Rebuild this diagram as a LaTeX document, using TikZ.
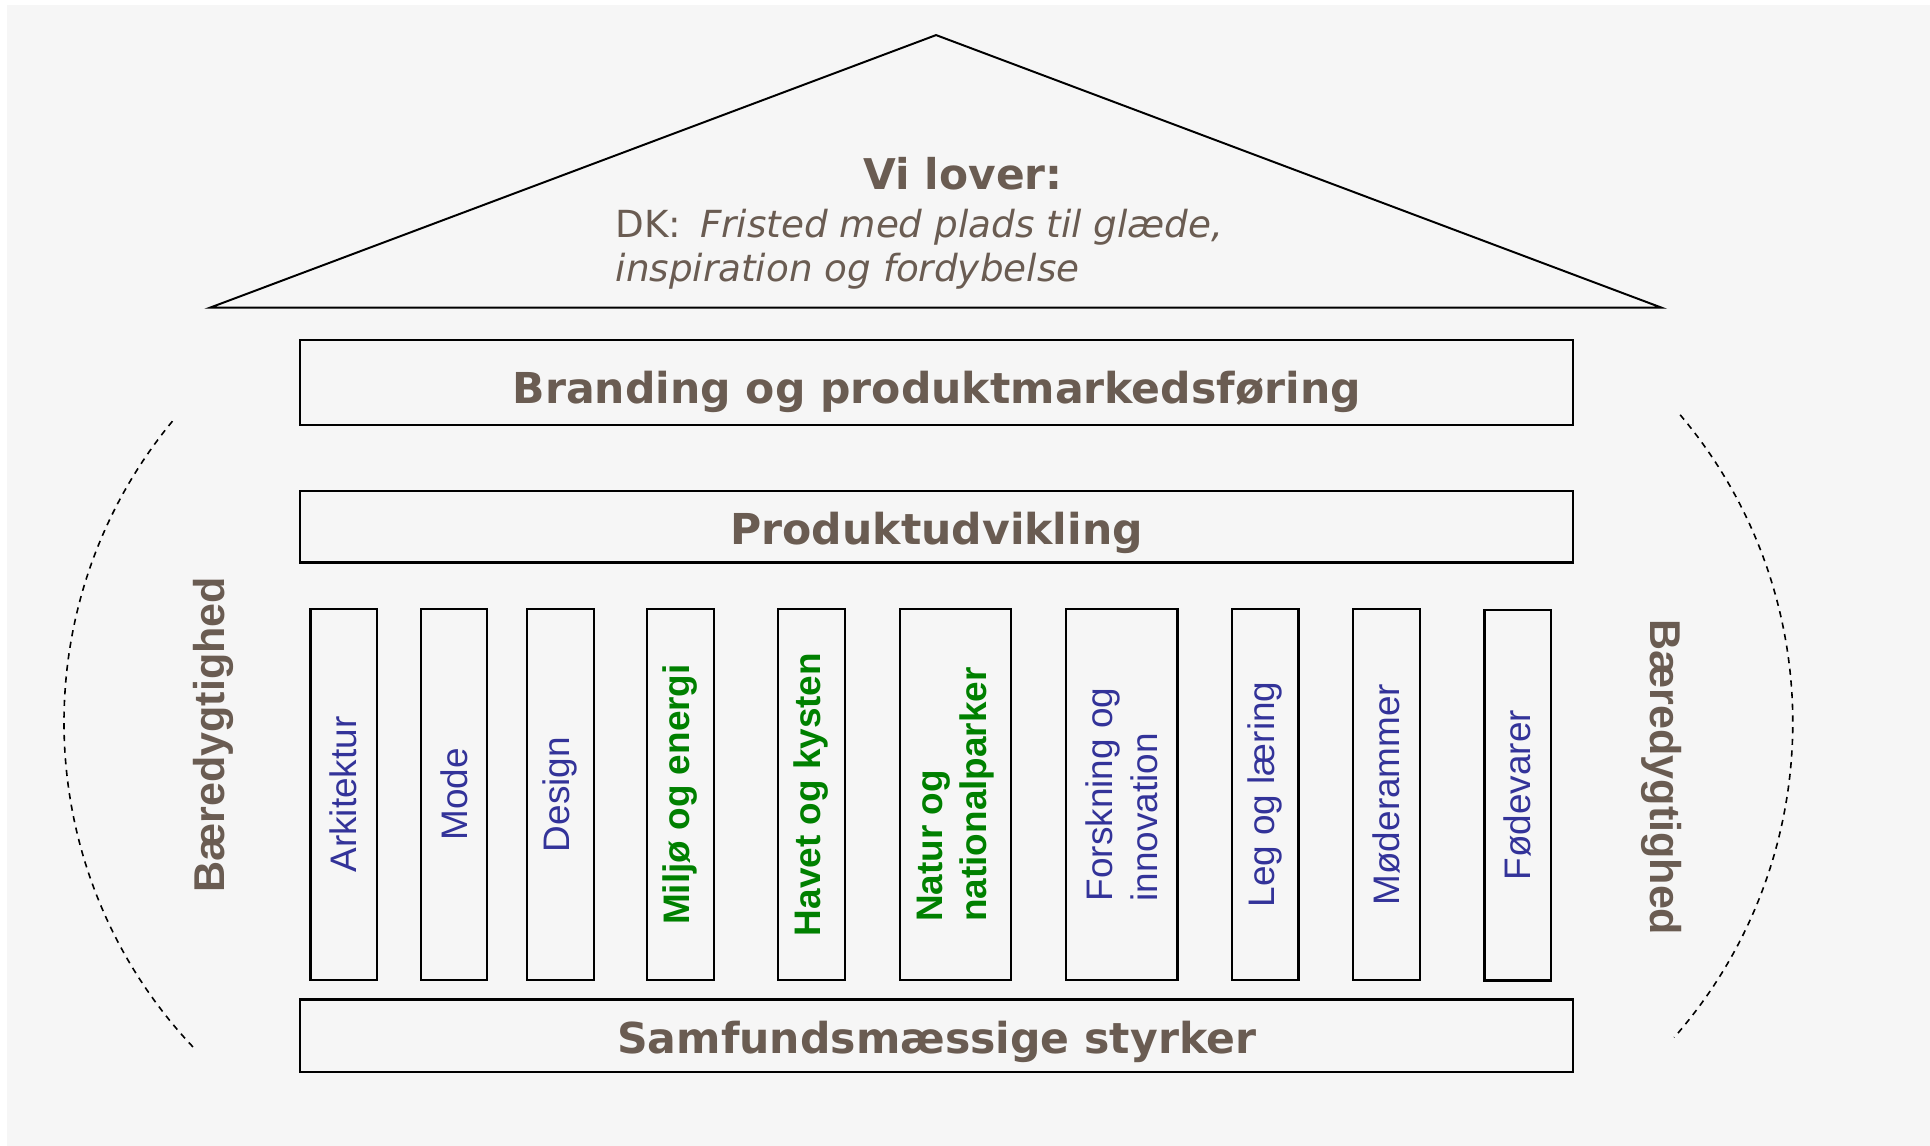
\documentclass[tikz,border=0pt]{standalone}
\usepackage{fontspec}
\newfontfamily\vfont{DejaVu Sans}
\newfontfamily\afont{Liberation Sans}
\definecolor{bgc}{RGB}{246,246,246}
\definecolor{brn}{RGB}{106,92,82}
\definecolor{pblue}{RGB}{51,51,153}
\definecolor{pgreen}{RGB}{0,128,0}
\begin{document}
\begin{tikzpicture}[x=1pt,y=-1pt,
  box/.style={draw=black,line width=1.8pt,minimum width=1034pt,inner sep=0pt},
  pillar/.style={draw=black,line width=1.8pt,minimum height=301pt,inner sep=0pt},
  btitle/.style={font=\vfont\bfseries\fontsize{34.6}{40}\selectfont,text=brn,anchor=base,inner sep=0pt},
  ptext/.style={rotate=90,font=\afont\fontsize{30}{36}\selectfont,text=pblue,align=left,inner sep=0pt},
  gtext/.style={rotate=90,font=\afont\bfseries\fontsize{30}{36}\selectfont,text=pgreen,align=left,inner sep=0pt},
  side/.style={font=\afont\bfseries\fontsize{35}{42}\selectfont,text=brn,inner sep=0pt},
  arcline/.style={line width=1.3pt,dash pattern=on 5pt off 4.5pt},
  roofline/.style={line width=1.6pt,line join=miter}
]
\useasboundingbox (0,0) rectangle (1568,931.05);
\fill[bgc] (5.5,4) rectangle (1568,931.05);

% roof
\coordinate (rl) at (170.5,250);
\coordinate (ra) at (760.5,28.5);
\coordinate (rr) at (1350,250);
\draw[roofline] (rl) -- (ra) -- (rr) -- cycle;

\node[font=\vfont\bfseries\fontsize{34.4}{40}\selectfont,text=brn,anchor=base,inner sep=0pt] (vi) at (782.5,154) {Vi lover:};
\node[font=\vfont\fontsize{30.3}{36}\selectfont,text=brn,anchor=base west,inner sep=0pt] (dk1) at (500,193) {DK:\hspace{0.5em}\textit{Fristed med plads til glæde,}};
\node[font=\vfont\fontsize{30.3}{36}\selectfont,text=brn,anchor=base west,inner sep=0pt] (dk2) at (500,229) {\textit{inspiration og fordybelse}};

% horizontal boxes
\node[box,minimum height=69pt] (b1) at (761,310.5) {};
\node[btitle] (b1t) at (761,328) {Branding og produktmarkedsføring};
\node[box,minimum height=58pt] (b2) at (761,428) {};
\node[btitle] (b2t) at (761,442) {Produktudvikling};
\node[box,minimum height=59pt] (b3) at (761,841.5) {};
\node[btitle] (b3t) at (761,856) {Samfundsmæssige styrker};

% pillars
\node[pillar,minimum width=54pt] (p1) at (279.3,645.5) {};
\node[ptext] (t1) at (p1.center) {Arkitektur};
\node[pillar,minimum width=54pt] (p2) at (368.8,645.5) {};
\node[ptext] (t2) at (p2.center) {Mode};
\node[pillar,minimum width=54pt] (p3) at (455.3,645.5) {};
\node[ptext] (t3) at (p3.center) {Design};
\node[pillar,minimum width=54pt] (p4) at (552.8,645.5) {};
\node[gtext] (t4) at (p4.center) {Miljø og energi};
\node[pillar,minimum width=54pt] (p5) at (659.2,645.5) {};
\node[gtext] (t5) at (p5.center) {Havet og kysten};
\node[pillar,minimum width=90.5pt] (p6) at (776.3,645.5) {};
\node[gtext] (t6) at (p6.center) {Natur og\\nationalparker};
\node[pillar,minimum width=90.5pt] (p7) at (911.3,645.5) {};
\node[ptext] (t7) at (p7.center) {Forskning og\\innovation};
\node[pillar,minimum width=54pt] (p8) at (1028,645.5) {};
\node[ptext] (t8) at (p8.center) {Leg og læring};
\node[pillar,minimum width=54pt] (p9) at (1126.5,645.5) {};
\node[ptext] (t9) at (p9.center) {Møderammer};
\node[pillar,minimum width=54pt] (p10) at (1233,646) {};
\node[ptext] (t10) at (p10.center) {Fødevarer};

% side labels
\node[side,rotate=90] (sl) at (173.5,597) {Bæredygtighed};
\node[side,rotate=-90] (sr) at (1350,631.5) {Bæredygtighed};

% dashed arcs
\coordinate (la) at (140.1,342.2);
\coordinate (ra2) at (1365,337);
\draw[arcline] (la) arc[start angle=219.6, end angle=136.5, radius=384];
\draw[arcline] (ra2) arc[start angle=-40.2, end angle=41.3, radius=387.5];
\end{tikzpicture}
\end{document}
